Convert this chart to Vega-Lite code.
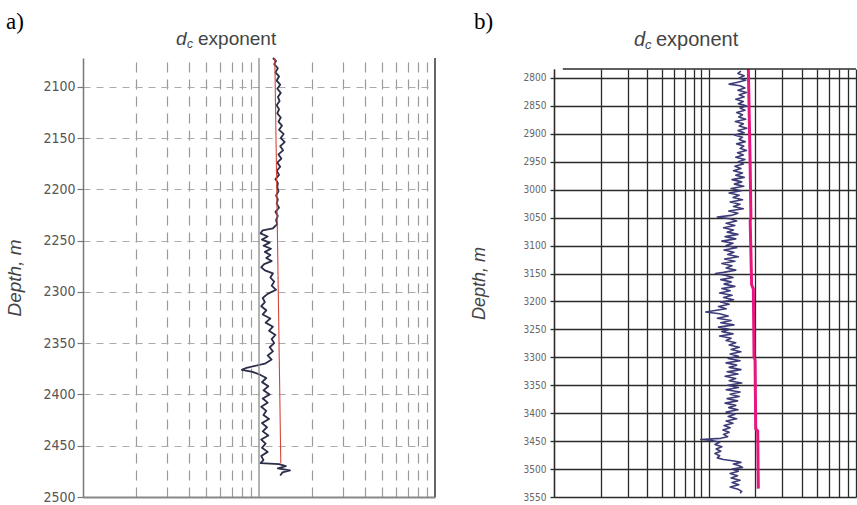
{
  "$schema": "https://vega.github.io/schema/vega-lite/v6.json",
  "background": "white",
  "padding": {"left": 5, "top": 11, "right": 0, "bottom": 0},
  "bounds": "flush",
  "spacing": 119,
  "config": {"view": {"stroke": null}, "font": "Liberation Sans"},
  "datasets": {
    "a_dc": [
      {"depth": 2072, "dc": 1.2}, {"depth": 2075, "dc": 1.25}, {"depth": 2078, "dc": 1.22}, {"depth": 2082, "dc": 1.28},
      {"depth": 2086, "dc": 1.24}, {"depth": 2090, "dc": 1.3}, {"depth": 2094, "dc": 1.26}, {"depth": 2098, "dc": 1.32},
      {"depth": 2102, "dc": 1.27}, {"depth": 2106, "dc": 1.33}, {"depth": 2110, "dc": 1.28}, {"depth": 2114, "dc": 1.31},
      {"depth": 2118, "dc": 1.26}, {"depth": 2122, "dc": 1.3}, {"depth": 2126, "dc": 1.27}, {"depth": 2130, "dc": 1.33},
      {"depth": 2134, "dc": 1.29}, {"depth": 2138, "dc": 1.35}, {"depth": 2142, "dc": 1.3}, {"depth": 2146, "dc": 1.38},
      {"depth": 2150, "dc": 1.33}, {"depth": 2154, "dc": 1.4}, {"depth": 2158, "dc": 1.32}, {"depth": 2162, "dc": 1.37},
      {"depth": 2166, "dc": 1.29}, {"depth": 2170, "dc": 1.34}, {"depth": 2174, "dc": 1.27}, {"depth": 2178, "dc": 1.32},
      {"depth": 2182, "dc": 1.26}, {"depth": 2186, "dc": 1.3}, {"depth": 2190, "dc": 1.24}, {"depth": 2194, "dc": 1.28},
      {"depth": 2198, "dc": 1.27}, {"depth": 2202, "dc": 1.29}, {"depth": 2206, "dc": 1.25}, {"depth": 2210, "dc": 1.28},
      {"depth": 2214, "dc": 1.26}, {"depth": 2218, "dc": 1.3}, {"depth": 2222, "dc": 1.24}, {"depth": 2226, "dc": 1.28},
      {"depth": 2230, "dc": 1.25}, {"depth": 2234, "dc": 1.27}, {"depth": 2238, "dc": 1.2}, {"depth": 2240, "dc": 1.05},
      {"depth": 2243, "dc": 1.02}, {"depth": 2246, "dc": 1.12}, {"depth": 2249, "dc": 1.04}, {"depth": 2252, "dc": 1.15},
      {"depth": 2255, "dc": 1.06}, {"depth": 2258, "dc": 1.17}, {"depth": 2261, "dc": 1.08}, {"depth": 2264, "dc": 1.16},
      {"depth": 2267, "dc": 1.1}, {"depth": 2270, "dc": 1.18}, {"depth": 2273, "dc": 1.07}, {"depth": 2276, "dc": 1.03},
      {"depth": 2279, "dc": 1.08}, {"depth": 2282, "dc": 1.2}, {"depth": 2286, "dc": 1.16}, {"depth": 2290, "dc": 1.22},
      {"depth": 2294, "dc": 1.18}, {"depth": 2298, "dc": 1.25}, {"depth": 2302, "dc": 1.12}, {"depth": 2306, "dc": 1.05},
      {"depth": 2310, "dc": 1.08}, {"depth": 2314, "dc": 1.03}, {"depth": 2318, "dc": 1.1}, {"depth": 2322, "dc": 1.05},
      {"depth": 2326, "dc": 1.16}, {"depth": 2330, "dc": 1.09}, {"depth": 2334, "dc": 1.2}, {"depth": 2338, "dc": 1.14},
      {"depth": 2342, "dc": 1.24}, {"depth": 2346, "dc": 1.18}, {"depth": 2350, "dc": 1.22}, {"depth": 2354, "dc": 1.15},
      {"depth": 2358, "dc": 1.2}, {"depth": 2362, "dc": 1.12}, {"depth": 2366, "dc": 1.18}, {"depth": 2370, "dc": 1.08},
      {"depth": 2374, "dc": 0.85}, {"depth": 2376, "dc": 0.8}, {"depth": 2378, "dc": 0.92}, {"depth": 2381, "dc": 1.02},
      {"depth": 2384, "dc": 1.1}, {"depth": 2388, "dc": 1.04}, {"depth": 2392, "dc": 1.13}, {"depth": 2396, "dc": 1.06},
      {"depth": 2400, "dc": 1.15}, {"depth": 2404, "dc": 1.05}, {"depth": 2408, "dc": 1.12}, {"depth": 2412, "dc": 1.03},
      {"depth": 2416, "dc": 1.1}, {"depth": 2420, "dc": 1.06}, {"depth": 2424, "dc": 1.14}, {"depth": 2428, "dc": 1.04},
      {"depth": 2432, "dc": 1.11}, {"depth": 2436, "dc": 1.05}, {"depth": 2440, "dc": 1.13}, {"depth": 2444, "dc": 1.03},
      {"depth": 2448, "dc": 1.09}, {"depth": 2452, "dc": 1.04}, {"depth": 2456, "dc": 1.12}, {"depth": 2460, "dc": 1.03},
      {"depth": 2464, "dc": 1.06}, {"depth": 2467, "dc": 1.02}, {"depth": 2468, "dc": 1.3}, {"depth": 2470, "dc": 1.42},
      {"depth": 2472, "dc": 1.28}, {"depth": 2474, "dc": 1.5}, {"depth": 2476, "dc": 1.36}, {"depth": 2479, "dc": 1.32}
    ],
    "a_trend": [
      {"depth": 2072, "dc": 1.23}, {"depth": 2467, "dc": 1.33}
    ],
    "b_dc": [
      {"depth": 2788, "dc": 1.62}, {"depth": 2792, "dc": 1.55}, {"depth": 2796, "dc": 1.7}, {"depth": 2800, "dc": 1.58},
      {"depth": 2804, "dc": 1.74}, {"depth": 2808, "dc": 1.52}, {"depth": 2811, "dc": 1.36}, {"depth": 2814, "dc": 1.6},
      {"depth": 2818, "dc": 1.72}, {"depth": 2822, "dc": 1.55}, {"depth": 2826, "dc": 1.76}, {"depth": 2830, "dc": 1.58},
      {"depth": 2834, "dc": 1.7}, {"depth": 2838, "dc": 1.5}, {"depth": 2842, "dc": 1.68}, {"depth": 2846, "dc": 1.56},
      {"depth": 2850, "dc": 1.75}, {"depth": 2854, "dc": 1.6}, {"depth": 2858, "dc": 1.72}, {"depth": 2862, "dc": 1.52},
      {"depth": 2866, "dc": 1.66}, {"depth": 2870, "dc": 1.57}, {"depth": 2874, "dc": 1.74}, {"depth": 2878, "dc": 1.49},
      {"depth": 2882, "dc": 1.68}, {"depth": 2886, "dc": 1.58}, {"depth": 2890, "dc": 1.77}, {"depth": 2894, "dc": 1.55},
      {"depth": 2898, "dc": 1.7}, {"depth": 2902, "dc": 1.47}, {"depth": 2906, "dc": 1.66}, {"depth": 2910, "dc": 1.58},
      {"depth": 2914, "dc": 1.73}, {"depth": 2918, "dc": 1.52}, {"depth": 2922, "dc": 1.69}, {"depth": 2926, "dc": 1.6},
      {"depth": 2930, "dc": 1.76}, {"depth": 2934, "dc": 1.54}, {"depth": 2938, "dc": 1.68}, {"depth": 2942, "dc": 1.5},
      {"depth": 2946, "dc": 1.72}, {"depth": 2950, "dc": 1.56}, {"depth": 2954, "dc": 1.68}, {"depth": 2958, "dc": 1.48},
      {"depth": 2962, "dc": 1.62}, {"depth": 2966, "dc": 1.45}, {"depth": 2970, "dc": 1.66}, {"depth": 2974, "dc": 1.5},
      {"depth": 2978, "dc": 1.7}, {"depth": 2982, "dc": 1.42}, {"depth": 2986, "dc": 1.64}, {"depth": 2990, "dc": 1.47},
      {"depth": 2994, "dc": 1.69}, {"depth": 2998, "dc": 1.4}, {"depth": 3002, "dc": 1.62}, {"depth": 3006, "dc": 1.36},
      {"depth": 3010, "dc": 1.58}, {"depth": 3014, "dc": 1.44}, {"depth": 3018, "dc": 1.66}, {"depth": 3022, "dc": 1.38},
      {"depth": 3026, "dc": 1.6}, {"depth": 3030, "dc": 1.45}, {"depth": 3034, "dc": 1.68}, {"depth": 3038, "dc": 1.35},
      {"depth": 3042, "dc": 1.55}, {"depth": 3046, "dc": 1.4}, {"depth": 3049, "dc": 1.14}, {"depth": 3052, "dc": 1.38},
      {"depth": 3056, "dc": 1.52}, {"depth": 3060, "dc": 1.3}, {"depth": 3064, "dc": 1.48}, {"depth": 3068, "dc": 1.25},
      {"depth": 3072, "dc": 1.45}, {"depth": 3076, "dc": 1.32}, {"depth": 3080, "dc": 1.55}, {"depth": 3084, "dc": 1.28},
      {"depth": 3088, "dc": 1.5}, {"depth": 3092, "dc": 1.22}, {"depth": 3096, "dc": 1.44}, {"depth": 3100, "dc": 1.3},
      {"depth": 3104, "dc": 1.52}, {"depth": 3108, "dc": 1.26}, {"depth": 3112, "dc": 1.46}, {"depth": 3116, "dc": 1.33},
      {"depth": 3120, "dc": 1.56}, {"depth": 3124, "dc": 1.27}, {"depth": 3128, "dc": 1.48}, {"depth": 3132, "dc": 1.22},
      {"depth": 3136, "dc": 1.42}, {"depth": 3140, "dc": 1.3}, {"depth": 3144, "dc": 1.5}, {"depth": 3148, "dc": 1.25},
      {"depth": 3150, "dc": 1.11}, {"depth": 3153, "dc": 1.28}, {"depth": 3157, "dc": 1.44}, {"depth": 3161, "dc": 1.2},
      {"depth": 3165, "dc": 1.4}, {"depth": 3169, "dc": 1.26}, {"depth": 3173, "dc": 1.48}, {"depth": 3177, "dc": 1.22},
      {"depth": 3181, "dc": 1.38}, {"depth": 3185, "dc": 1.18}, {"depth": 3189, "dc": 1.42}, {"depth": 3193, "dc": 1.25},
      {"depth": 3197, "dc": 1.45}, {"depth": 3201, "dc": 1.2}, {"depth": 3205, "dc": 1.36}, {"depth": 3209, "dc": 1.16},
      {"depth": 3213, "dc": 1.3}, {"depth": 3217, "dc": 1.05}, {"depth": 3219, "dc": 0.96}, {"depth": 3222, "dc": 1.18},
      {"depth": 3226, "dc": 1.34}, {"depth": 3230, "dc": 1.14}, {"depth": 3234, "dc": 1.4}, {"depth": 3238, "dc": 1.2},
      {"depth": 3242, "dc": 1.46}, {"depth": 3246, "dc": 1.16}, {"depth": 3250, "dc": 1.36}, {"depth": 3254, "dc": 1.22},
      {"depth": 3258, "dc": 1.44}, {"depth": 3262, "dc": 1.18}, {"depth": 3266, "dc": 1.4}, {"depth": 3270, "dc": 1.3},
      {"depth": 3274, "dc": 1.5}, {"depth": 3278, "dc": 1.36}, {"depth": 3282, "dc": 1.58}, {"depth": 3286, "dc": 1.4},
      {"depth": 3290, "dc": 1.62}, {"depth": 3294, "dc": 1.38}, {"depth": 3298, "dc": 1.56}, {"depth": 3302, "dc": 1.34},
      {"depth": 3306, "dc": 1.6}, {"depth": 3310, "dc": 1.3}, {"depth": 3314, "dc": 1.52}, {"depth": 3318, "dc": 1.36},
      {"depth": 3322, "dc": 1.62}, {"depth": 3326, "dc": 1.32}, {"depth": 3330, "dc": 1.55}, {"depth": 3334, "dc": 1.28},
      {"depth": 3338, "dc": 1.5}, {"depth": 3342, "dc": 1.36}, {"depth": 3346, "dc": 1.64}, {"depth": 3350, "dc": 1.33},
      {"depth": 3354, "dc": 1.56}, {"depth": 3358, "dc": 1.3}, {"depth": 3362, "dc": 1.6}, {"depth": 3366, "dc": 1.38},
      {"depth": 3370, "dc": 1.58}, {"depth": 3374, "dc": 1.32}, {"depth": 3378, "dc": 1.54}, {"depth": 3382, "dc": 1.28},
      {"depth": 3386, "dc": 1.5}, {"depth": 3390, "dc": 1.35}, {"depth": 3394, "dc": 1.55}, {"depth": 3398, "dc": 1.3},
      {"depth": 3402, "dc": 1.48}, {"depth": 3406, "dc": 1.34}, {"depth": 3410, "dc": 1.52}, {"depth": 3414, "dc": 1.3},
      {"depth": 3418, "dc": 1.44}, {"depth": 3422, "dc": 1.26}, {"depth": 3426, "dc": 1.38}, {"depth": 3430, "dc": 1.24},
      {"depth": 3434, "dc": 1.36}, {"depth": 3438, "dc": 1.25}, {"depth": 3442, "dc": 1.33}, {"depth": 3445, "dc": 1.2},
      {"depth": 3447, "dc": 0.89}, {"depth": 3449, "dc": 1.05}, {"depth": 3452, "dc": 1.18}, {"depth": 3456, "dc": 1.1},
      {"depth": 3460, "dc": 1.22}, {"depth": 3464, "dc": 1.12}, {"depth": 3468, "dc": 1.2}, {"depth": 3472, "dc": 1.1},
      {"depth": 3476, "dc": 1.18}, {"depth": 3480, "dc": 1.14}, {"depth": 3483, "dc": 1.25}, {"depth": 3486, "dc": 1.5},
      {"depth": 3488, "dc": 1.62}, {"depth": 3491, "dc": 1.45}, {"depth": 3494, "dc": 1.58}, {"depth": 3497, "dc": 1.66},
      {"depth": 3500, "dc": 1.42}, {"depth": 3504, "dc": 1.56}, {"depth": 3508, "dc": 1.38}, {"depth": 3512, "dc": 1.54},
      {"depth": 3516, "dc": 1.4}, {"depth": 3520, "dc": 1.6}, {"depth": 3524, "dc": 1.42}, {"depth": 3528, "dc": 1.57},
      {"depth": 3532, "dc": 1.38}, {"depth": 3536, "dc": 1.55}, {"depth": 3540, "dc": 1.64}, {"depth": 3543, "dc": 1.6}
    ],
    "b_trend": [
      {"depth": 2784, "dc": 1.81}, {"depth": 2960, "dc": 1.86}, {"depth": 3050, "dc": 1.88}, {"depth": 3056, "dc": 1.86},
      {"depth": 3170, "dc": 1.9}, {"depth": 3178, "dc": 1.95}, {"depth": 3300, "dc": 1.97}, {"depth": 3305, "dc": 2.0},
      {"depth": 3428, "dc": 2.02}, {"depth": 3432, "dc": 2.08}, {"depth": 3535, "dc": 2.1}
    ]
  },
  "hconcat": [
    {
      "width": 352,
      "height": 439,
      "layer": [
        {
          "data": {"name": "a_dc"},
          "mark": {"type": "line", "color": "#2b2e48", "strokeWidth": 1.8, "strokeJoin": "round"},
          "encoding": {
            "x": {
              "field": "dc", "type": "quantitative",
              "scale": {"type": "log", "domain": [0.1, 10], "nice": false},
              "axis": {
                "title": null, "labels": false, "ticks": false,
                "domain": true, "domainColor": "#888888", "domainWidth": 2,
                "grid": true, "tickCount": 30, "values": [0.2, 0.3, 0.4, 0.5, 0.6, 0.7, 0.8, 0.9, 2, 3, 4, 5, 6, 7, 8, 9],
                "gridColor": "#9a9a9a", "gridWidth": 1.2, "gridDash": [10, 7]
              }
            },
            "y": {
              "field": "depth", "type": "quantitative",
              "scale": {"domain": [2072, 2500], "reverse": true, "nice": false, "zero": false},
              "axis": {
                "title": "Depth, m", "format": "d", "labelOverlap": false, "tickCount": 20,
                "values": [2100, 2150, 2200, 2250, 2300, 2350, 2400, 2450, 2500],
                "grid": true, "gridDash": [7, 6], "gridColor": "#aaaaaa", "gridWidth": 1,
                "domainColor": "#777777", "domainWidth": 1.5,
                "tickColor": "#777777", "tickSize": 6, "tickWidth": 1.2,
                "labelFont": "Liberation Sans Narrow, Arial Narrow, DejaVu Sans Condensed, sans-serif",
                "labelFontSize": 14, "labelColor": "#555555", "labelPadding": 2,
                "titleFont": "Liberation Sans", "titleFontStyle": "italic", "titleFontWeight": "normal",
                "titleFontSize": 19, "titleColor": "#444444", "titlePadding": 18
              }
            },
            "order": {"field": "depth", "type": "quantitative"}
          }
        },
        {
          "data": {"name": "a_trend"},
          "mark": {"type": "line", "color": "#d2473a", "strokeWidth": 1.1},
          "encoding": {
            "x": {"field": "dc", "type": "quantitative"},
            "y": {"field": "depth", "type": "quantitative"},
            "order": {"field": "depth", "type": "quantitative"}
          }
        },
        {
          "data": {"values": [{}]},
          "mark": {"type": "rule", "color": "#8a8a8a", "strokeWidth": 1.3},
          "encoding": {"x": {"datum": 1, "type": "quantitative"}}
        },
        {
          "data": {"values": [{}]},
          "mark": {"type": "rule", "color": "#666666", "strokeWidth": 2},
          "encoding": {"x": {"datum": 10, "type": "quantitative"}}
        },
        {
          "data": {"values": [{}]},
          "mark": {"type": "text", "text": "a)", "font": "Liberation Serif", "fontSize": 23, "color": "#000000", "align": "left", "baseline": "alphabetic", "dx": -77, "dy": -29},
          "encoding": {"x": {"datum": 0.1, "type": "quantitative"}, "y": {"datum": 2072, "type": "quantitative"}}
        },
        {
          "data": {"values": [{}]},
          "mark": {"type": "text", "text": "d", "fontSize": 19, "fontStyle": "italic", "color": "#444444", "align": "left", "baseline": "alphabetic", "dx": 93, "dy": -13},
          "encoding": {"x": {"datum": 0.1, "type": "quantitative"}, "y": {"datum": 2072, "type": "quantitative"}}
        },
        {
          "data": {"values": [{}]},
          "mark": {"type": "text", "text": "c", "fontSize": 12, "fontStyle": "italic", "color": "#444444", "align": "left", "baseline": "alphabetic", "dx": 104, "dy": -10},
          "encoding": {"x": {"datum": 0.1, "type": "quantitative"}, "y": {"datum": 2072, "type": "quantitative"}}
        },
        {
          "data": {"values": [{}]},
          "mark": {"type": "text", "text": "exponent", "fontSize": 19, "color": "#444444", "align": "left", "baseline": "alphabetic", "dx": 115, "dy": -13},
          "encoding": {"x": {"datum": 0.1, "type": "quantitative"}, "y": {"datum": 2072, "type": "quantitative"}}
        }
      ]
    },
    {
      "width": 302,
      "height": 439,
      "layer": [
        {
          "data": {"name": "b_dc"},
          "mark": {"type": "line", "color": "#3d3c78", "strokeWidth": 1.6, "strokeJoin": "round"},
          "encoding": {
            "x": {
              "field": "dc", "type": "quantitative",
              "scale": {"type": "log", "domain": [0.1, 9], "nice": false},
              "axis": {
                "orient": "top",
                "title": null, "labels": false, "ticks": false, "domain": false,
                "grid": true, "tickCount": 30, "values": [0.1, 0.2, 0.3, 0.4, 0.5, 0.6, 0.7, 0.8, 0.9, 1, 2, 3, 4, 5, 6, 7, 8, 9],
                "gridColor": "#2a2a2a", "gridWidth": 1.3
              }
            },
            "y": {
              "field": "depth", "type": "quantitative",
              "scale": {"domain": [2784, 3550], "range": [11, 439], "nice": false, "zero": false},
              "axis": {
                "title": "Depth, m", "format": "d", "labelOverlap": false, "tickCount": 30,
                "values": [2800, 2850, 2900, 2950, 3000, 3050, 3100, 3150, 3200, 3250, 3300, 3350, 3400, 3450, 3500, 3550],
                "grid": true, "gridColor": "#2a2a2a", "gridWidth": 1.3,
                "domainColor": "#2a2a2a", "domainWidth": 1.3,
                "tickColor": "#2a2a2a", "tickSize": 4, "tickWidth": 1.3,
                "labelFont": "Liberation Sans Narrow, Arial Narrow, DejaVu Sans Condensed, sans-serif",
                "labelFontSize": 10, "labelColor": "#666666", "labelPadding": 4,
                "titleFont": "Liberation Sans", "titleFontStyle": "italic", "titleFontWeight": "normal",
                "titleFontSize": 18, "titleColor": "#444444", "titlePadding": 35
              }
            },
            "order": {"field": "depth", "type": "quantitative"}
          }
        },
        {
          "data": {"name": "b_trend"},
          "mark": {"type": "line", "color": "#e8177f", "strokeWidth": 3},
          "encoding": {
            "x": {"field": "dc", "type": "quantitative"},
            "y": {"field": "depth", "type": "quantitative"},
            "order": {"field": "depth", "type": "quantitative"}
          }
        },
        {
          "data": {"values": [{}]},
          "mark": {"type": "rule", "color": "#2a2a2a", "strokeWidth": 1.3},
          "encoding": {
            "x": {"datum": 0.114, "type": "quantitative"},
            "x2": {"datum": 9},
            "y": {"datum": 2784, "type": "quantitative"}
          }
        },
        {
          "data": {"values": [{}]},
          "mark": {"type": "text", "text": "b)", "font": "Liberation Serif", "fontSize": 23, "color": "#000000", "align": "left", "baseline": "alphabetic", "dx": -80, "dy": -40},
          "encoding": {"x": {"datum": 0.1, "type": "quantitative"}, "y": {"datum": 2784, "type": "quantitative"}}
        },
        {
          "data": {"values": [{}]},
          "mark": {"type": "text", "text": "d", "fontSize": 20, "fontStyle": "italic", "color": "#444444", "align": "left", "baseline": "alphabetic", "dx": 80, "dy": -23},
          "encoding": {"x": {"datum": 0.1, "type": "quantitative"}, "y": {"datum": 2784, "type": "quantitative"}}
        },
        {
          "data": {"values": [{}]},
          "mark": {"type": "text", "text": "c", "fontSize": 13, "fontStyle": "italic", "color": "#444444", "align": "left", "baseline": "alphabetic", "dx": 91, "dy": -20},
          "encoding": {"x": {"datum": 0.1, "type": "quantitative"}, "y": {"datum": 2784, "type": "quantitative"}}
        },
        {
          "data": {"values": [{}]},
          "mark": {"type": "text", "text": "exponent", "fontSize": 20, "color": "#444444", "align": "left", "baseline": "alphabetic", "dx": 102, "dy": -23},
          "encoding": {"x": {"datum": 0.1, "type": "quantitative"}, "y": {"datum": 2784, "type": "quantitative"}}
        }
      ]
    }
  ]
}
